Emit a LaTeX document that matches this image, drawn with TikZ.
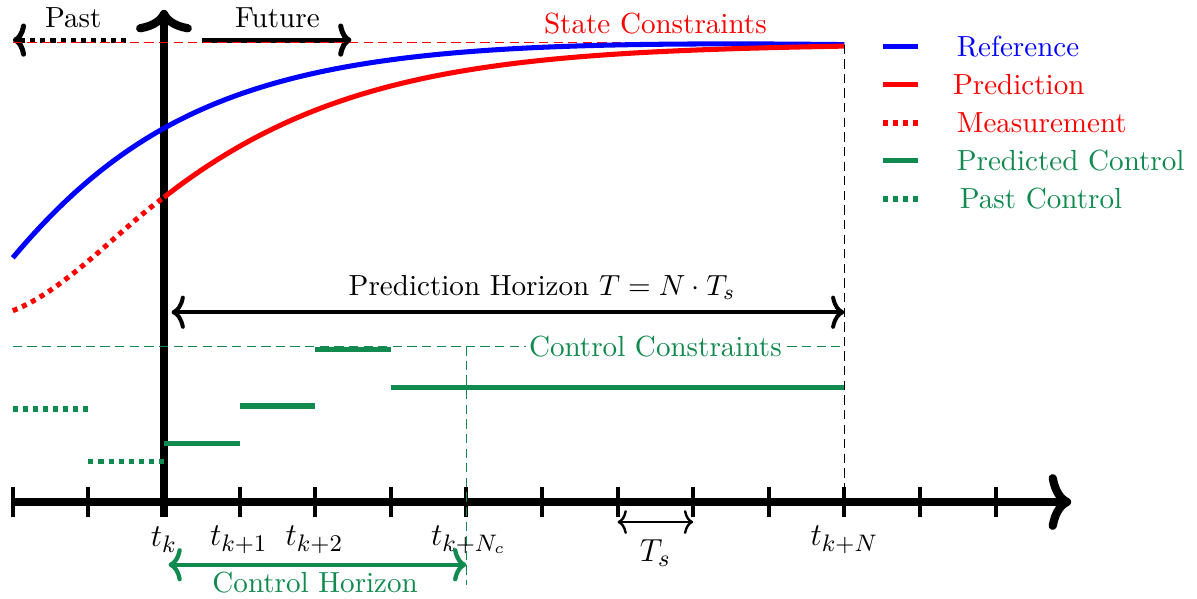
\documentclass[tikz,border=0pt]{standalone}
\usetikzlibrary{arrows.meta}
\definecolor{mpcgreen}{RGB}{16,138,78}
\begin{document}
\begin{tikzpicture}[
  txt/.style={font=\fontsize{10.95}{13.6}\selectfont, inner sep=1pt},
  mtxt/.style={font=\fontsize{12.4}{15}\selectfont, inner sep=1pt},
  axisline/.style={line width=3.1pt},
  tickmark/.style={line width=1.5pt},
  curveline/.style={line width=1.9pt},
  ctrlline/.style={line width=1.9pt, draw=mpcgreen},
  dotline/.style={dash pattern=on 1.9pt off 1.9pt},
  thindash/.style={line width=0.5pt, dash pattern=on 3.5pt off 2pt},
  axtip/.style={-{Computer Modern Rightarrow[length=8.5pt,width=21pt]}},
  midtip/.style={{Computer Modern Rightarrow[length=5pt,width=12.5pt]}-{Computer Modern Rightarrow[length=5pt,width=12.5pt]}},
  rtip/.style={-{Computer Modern Rightarrow[length=5pt,width=12.5pt]}},
  smalltip/.style={{Computer Modern Rightarrow[length=3.5pt,width=9pt]}-{Computer Modern Rightarrow[length=3.5pt,width=9pt]}}
]
\useasboundingbox (-2.169,-1.283) rectangle (13.664,6.640);

% ---- coordinates
\coordinate (xs) at (-2,0);
\coordinate (xe) at (12,0);
\coordinate (ys) at (0,-0.2);
\coordinate (ye) at (0,6.51);

% ---- axes
\draw[axisline,axtip] (xs) -- (xe);
\draw[axisline,axtip] (ys) -- (ye);
\foreach \i in {-2,-1,1,2,...,11} \draw[tickmark] (\i,-0.2) -- (\i,0.2);

% ---- past / future
\coordinate (pastS) at (-0.5,6.11);
\coordinate (pastE) at (-2.0,6.11);
\coordinate (futS) at (0.5,6.11);
\coordinate (futE) at (2.48,6.11);
\draw[line width=1.9pt,dotline,rtip] (pastS) -- (pastE);
\draw[line width=1.9pt,rtip] (futS) -- (futE);
\node[txt] (past) at (-1.2,6.40) {Past};
\node[txt] (future) at (1.5,6.40) {Future};

% ---- state constraints
\coordinate (scS) at (-2,6.08);
\coordinate (scE) at (9,6.08);
\draw[thindash,red] (scS) -- (scE);
\node[txt,red] (sctext) at (6.5,6.33) {State Constraints};

% ---- curves
\coordinate (refS) at (-2,3.23);
\coordinate (refE) at (9,6.05);
\draw[curveline,blue] (refS) .. controls (0.2,5.85) and (2.5,6.12) .. (refE);
\coordinate (measS) at (-2,2.53);
\coordinate (measE) at (0,4.03);
\draw[curveline,red,dotline] (measS) .. controls (-1.3,2.8) and (-0.6,3.6) .. (measE);
\coordinate (predE) at (9,6.03);
\draw[curveline,red] (measE) .. controls (2.2,5.75) and (4.5,5.95) .. (predE);

% ---- prediction horizon
\coordinate (phS) at (0.1,2.51);
\coordinate (phE) at (9,2.51);
\draw[line width=1.5pt,midtip] (phS) -- (phE);
\node[txt] (phtext) at (5.0,2.84) {Prediction Horizon $T = N\cdot T_s$};

% ---- vertical dashed line at t_{k+N}
\coordinate (nTop) at (9,6.05);
\coordinate (nBot) at (9,0);
\draw[thindash,black] (nTop) -- (nBot);

% ---- control steps
\draw[ctrlline] (0,0.78) -- (1,0.78);
\draw[ctrlline] (1,1.27) -- (2,1.27);
\draw[ctrlline] (2,2.02) -- (3,2.02);
\draw[ctrlline] (3,1.52) -- (9,1.52);
\draw[ctrlline,dotline] (-2,1.23) -- (-1,1.23);
\draw[ctrlline,dotline] (-1,0.53) -- (0,0.53);

% ---- control constraints
\coordinate (ccS) at (-2,2.06);
\coordinate (ccE) at (9,2.06);
\draw[thindash,mpcgreen] (ccS) -- (ccE);
\node[txt,mpcgreen,fill=white] (cctext) at (6.5,2.06) {Control Constraints};
\coordinate (ncTop) at (4,2.06);
\coordinate (ncBot) at (4,-1.1);
\draw[thindash,mpcgreen] (ncTop) -- (ncBot);

% ---- time labels
\node[mtxt] (tk) at (0,-0.5) {$t_k$};
\node[mtxt] (tk1) at (0.99,-0.5) {$t_{k+1}$};
\node[mtxt] (tk2) at (1.99,-0.5) {$t_{k+2}$};
\node[mtxt] (tkNc) at (4.03,-0.5) {$t_{k+N_c}$};
\node[mtxt] (tkN) at (9.0,-0.5) {$t_{k+N}$};

% ---- Ts
\coordinate (tsS) at (6,-0.265);
\coordinate (tsE) at (7,-0.265);
\draw[line width=0.9pt,smalltip] (tsS) -- (tsE);
\node[mtxt] (tstext) at (6.5,-0.68) {$T_s$};

% ---- control horizon
\coordinate (chS) at (0.06,-0.83);
\coordinate (chE) at (4,-0.83);
\draw[line width=1.6pt,mpcgreen,midtip] (chS) -- (chE);
\node[txt,mpcgreen] (chtext) at (2.0,-1.07) {Control Horizon};

% ---- legend
\coordinate (l1a) at (9.51,6.019); \coordinate (l1b) at (9.97,6.019);
\coordinate (l2a) at (9.51,5.516); \coordinate (l2b) at (9.97,5.516);
\coordinate (l3a) at (9.51,5.013); \coordinate (l3b) at (9.97,5.013);
\coordinate (l4a) at (9.51,4.511); \coordinate (l4b) at (9.97,4.511);
\coordinate (l5a) at (9.51,4.008); \coordinate (l5b) at (9.97,4.008);
\draw[curveline,blue] (l1a) -- (l1b);
\draw[curveline,red] (l2a) -- (l2b);
\draw[curveline,red,dotline] (l3a) -- (l3b);
\draw[ctrlline] (l4a) -- (l4b);
\draw[ctrlline,dotline] (l5a) -- (l5b);
\node[txt,blue,anchor=west,inner sep=0pt] (lg1) at (10.48,6.019) {Reference};
\node[txt,red,anchor=west,inner sep=0pt] (lg2) at (10.43,5.516) {Prediction};
\node[txt,red,anchor=west,inner sep=0pt] (lg3) at (10.48,5.013) {Measurement};
\node[txt,mpcgreen,anchor=west,inner sep=0pt] (lg4) at (10.48,4.511) {Predicted Control};
\node[txt,mpcgreen,anchor=west,inner sep=0pt] (lg5) at (10.52,4.008) {Past Control};
\end{tikzpicture}
\end{document}
